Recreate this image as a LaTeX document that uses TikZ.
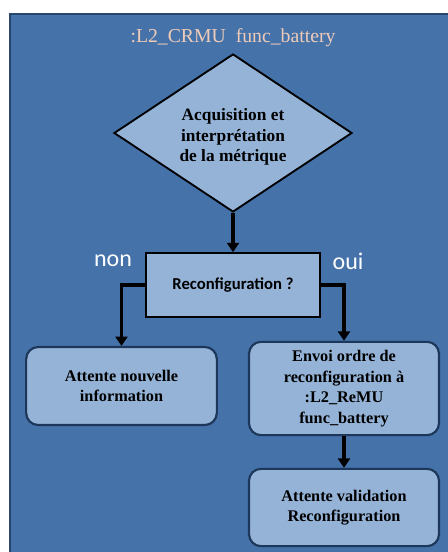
\documentclass[tikz,border=0pt]{standalone}
\usepackage{fontspec}
\setmainfont{Liberation Serif}
\newfontfamily\calib{Carlito}
\usetikzlibrary{shapes.geometric,arrows.meta}
\definecolor{bgblue}{RGB}{70,114,170}
\definecolor{bgedge}{RGB}{40,70,110}
\definecolor{boxfill}{RGB}{149,179,215}
\definecolor{boxedge}{RGB}{28,55,90}
\definecolor{titlecol}{RGB}{240,204,184}
\begin{document}
\begin{tikzpicture}[x=0.75pt,y=-0.75pt,
  rbox/.style={draw=boxedge,line width=1.6pt,fill=boxfill,rounded corners=9pt,
    align=center,font=\fontsize{12.2}{15.5}\selectfont\bfseries,inner sep=2pt},
  flowarrow/.style={line width=2.4pt,-{Triangle[length=7pt,width=9pt]}},
  lbl/.style={text=white,font=\calib\fontsize{18}{20}\selectfont}]
\useasboundingbox (0,0) rectangle (448,552);
\fill[bgblue] (9,13) rectangle (448,552);
\draw[bgedge,line width=2pt] (10,552) -- (10,14) -- (448,14);
\node[text=titlecol,font=\fontsize{14.8}{16}\selectfont] (title) at (233,38) {:L2\_CRMU\ \ func\_battery};
\node[diamond,draw=black,line width=1.4pt,fill=boxfill,inner sep=0pt,
  minimum width=178.5pt,minimum height=118.5pt] (acq) at (233,133) {};
\node[align=center,font=\fontsize{13}{15.5}\selectfont\bfseries] (acqtext) at (233,137)
  {Acquisition et\\interprétation\\de la métrique};
\node[draw=black,line width=1.2pt,fill=boxfill,minimum width=130.5pt,minimum height=48pt,
  font=\calib\fontsize{12.5}{14}\selectfont\bfseries] (reco) at (233,285) {Reconfiguration ?};
\node[rbox,minimum width=143pt,minimum height=58.5pt] (attente) at (121.5,386)
  {Attente nouvelle\\information};
\node[rbox,minimum width=142.5pt,minimum height=70pt] (envoi) at (344,388.5)
  {Envoi ordre de\\reconfiguration à\\:L2\_ReMU\\func\_battery};
\node[rbox,minimum width=142.5pt,minimum height=58pt] (valid) at (344,507.5)
  {Attente validation\\Reconfiguration};
\node[lbl] (non) at (113,261) {non};
\node[lbl] (oui) at (348,261) {oui};
\draw[flowarrow] (acq.south) -- (reco.north);
\draw[flowarrow] (reco.west) -| (attente.north);
\draw[flowarrow] (reco.east) -| (envoi.north);
\draw[flowarrow] (envoi.south) -- (valid.north);
\end{tikzpicture}
\end{document}
